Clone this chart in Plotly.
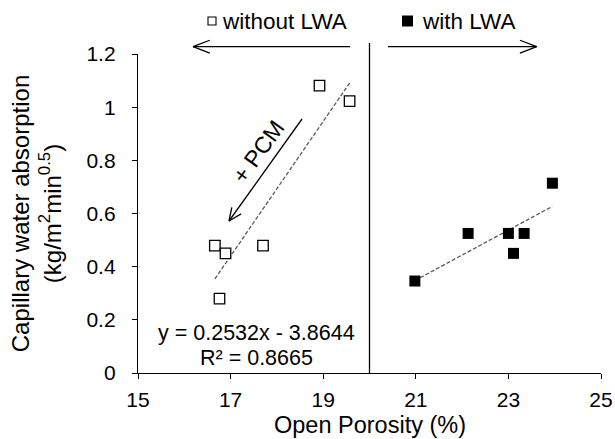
import numpy as np
import plotly.graph_objects as go

# Open porosity (%) and capillary water absorption (kg/m2 min^0.5)
porosity_without_lwa = [16.66, 16.89, 17.70, 16.76, 18.92, 19.57]
absorption_without_lwa = [0.479, 0.450, 0.479, 0.280, 1.081, 1.023]

porosity_with_lwa = [20.98, 22.13, 23.00, 23.34, 23.11, 23.95]
absorption_with_lwa = [0.346, 0.525, 0.525, 0.525, 0.450, 0.714]

# Linear fit reported for the mixes without LWA
fit_slope = 0.2532
fit_intercept = -3.8644
fit_r2 = 0.8665

x_ticks = [15, 17, 19, 21, 23, 25]
y_ticks = [0, 0.2, 0.4, 0.6, 0.8, 1.0, 1.2]
x_split = 20

FONT = "Liberation Sans, Arial, sans-serif"
W_FIG, H_FIG = 615, 439
M_L, M_R, M_T, M_B = 138, 14, 54, 66
PW = W_FIG - M_L - M_R
PH = H_FIG - M_T - M_B


def px(x):
    return (x - M_L) / PW


def py(y):
    return (M_T + PH - y) / PH


def arrow(x0, y0, x1, y1, head=16, spread=np.radians(23), width=1.3):
    """Straight arrow from (x0, y0) to tip (x1, y1) in pixels, open head."""
    ang = np.arctan2(y0 - y1, x0 - x1)
    shapes = [dict(type="line", xref="paper", yref="paper",
                   x0=px(x0), y0=py(y0), x1=px(x1), y1=py(y1),
                   line=dict(color="black", width=width))]
    for s in (spread, -spread):
        hx = x1 + head * np.cos(ang + s)
        hy = y1 + head * np.sin(ang + s)
        shapes.append(dict(type="line", xref="paper", yref="paper",
                           x0=px(x1), y0=py(y1), x1=px(hx), y1=py(hy),
                           line=dict(color="black", width=width)))
    return shapes


fig = go.Figure()

# Trendline without LWA, from the reported equation
xa = np.array([min(porosity_without_lwa), max(porosity_without_lwa)])
fig.add_trace(go.Scatter(x=xa, y=fit_slope * xa + fit_intercept, mode="lines",
                         line=dict(color="#5a5a5a", width=1.3, dash="4px,2px"),
                         showlegend=False, hoverinfo="skip"))

# Trendline with LWA, least squares
k, b = np.polyfit(porosity_with_lwa, absorption_with_lwa, 1)
xb = np.array([min(porosity_with_lwa), max(porosity_with_lwa)])
fig.add_trace(go.Scatter(x=xb, y=k * xb + b, mode="lines",
                         line=dict(color="#5a5a5a", width=1.3, dash="4px,2px"),
                         showlegend=False, hoverinfo="skip"))

fig.add_trace(go.Scatter(x=porosity_without_lwa, y=absorption_without_lwa,
                         mode="markers", name="without LWA",
                         marker=dict(symbol="square", size=10.5, color="white",
                                     line=dict(color="black", width=1.3)),
                         showlegend=False))
fig.add_trace(go.Scatter(x=porosity_with_lwa, y=absorption_with_lwa,
                         mode="markers", name="with LWA",
                         marker=dict(symbol="square", size=11, color="black",
                                     line=dict(width=0)),
                         showlegend=False))

shapes = []
# divider between the two groups
x_div = (x_split - x_ticks[0]) / (x_ticks[-1] - x_ticks[0])
shapes.append(dict(type="line", xref="paper", yref="paper",
                   x0=x_div, x1=x_div, y0=0, y1=py(43),
                   line=dict(color="black", width=1.3)))
shapes += arrow(350, 46.7, 193, 46.7, head=18, spread=np.radians(21))
shapes += arrow(388, 46.7, 536.7, 46.7, head=18, spread=np.radians(21))
shapes += arrow(302, 119, 229, 221, head=14, spread=np.radians(24))

# legend swatches
shapes.append(dict(type="rect", xref="paper", yref="paper",
                   x0=px(208), x1=px(216), y0=py(25), y1=py(17),
                   line=dict(color="black", width=1.1), fillcolor="white"))
shapes.append(dict(type="rect", xref="paper", yref="paper",
                   x0=px(402), x1=px(413), y0=py(26.5), y1=py(15.5),
                   line=dict(width=0), fillcolor="black"))

annotations = [
    dict(text="without LWA", x=px(220), y=py(21), xanchor="left", yanchor="middle",
         font=dict(size=22.5)),
    dict(text="with LWA", x=px(420), y=py(21), xanchor="left", yanchor="middle",
         font=dict(size=22.5)),
    dict(text="+ PCM", x=px(258), y=py(152), textangle=-54,
         xanchor="center", yanchor="middle", font=dict(size=23)),
    dict(text=f"y = {fit_slope}x - {abs(fit_intercept)}", x=px(256), y=py(333),
         xanchor="center", yanchor="middle", font=dict(size=21.5)),
    dict(text=f"R² = {fit_r2}", x=px(256), y=py(358),
         xanchor="center", yanchor="middle", font=dict(size=21.5)),
    # x axis title
    dict(text="Open Porosity (%)", x=0.5, y=py(425), xanchor="center",
         yanchor="middle", font=dict(size=23.5)),
]
for a in annotations:
    a.update(xref="paper", yref="paper", showarrow=False)

axis_common = dict(showline=True, linecolor="black", linewidth=1.3,
                   ticks="outside", ticklen=5, tickwidth=1.3, tickcolor="black",
                   showgrid=False, zeroline=False, automargin=False,
                   tickfont=dict(size=21, color="black"))

fig.update_layout(
    template="none",
    width=W_FIG, height=H_FIG,
    margin=dict(l=M_L, r=M_R, t=M_T, b=M_B, pad=0),
    paper_bgcolor="white", plot_bgcolor="white",
    font=dict(family=FONT, color="black"),
    showlegend=False,
    xaxis=dict(range=[x_ticks[0], x_ticks[-1]], tickvals=x_ticks,
               ticklabelstandoff=3, **axis_common),
    yaxis=dict(range=[y_ticks[0], y_ticks[-1]], tickvals=y_ticks,
               title=dict(text="Capillary water absorption<br>(kg/m<sup>2</sup>min<sup>0.5</sup>)",
                          font=dict(size=24), standoff=18),
               ticklabelstandoff=12, **axis_common),
    shapes=shapes,
    annotations=annotations,
)

fig.write_html("out.html")
